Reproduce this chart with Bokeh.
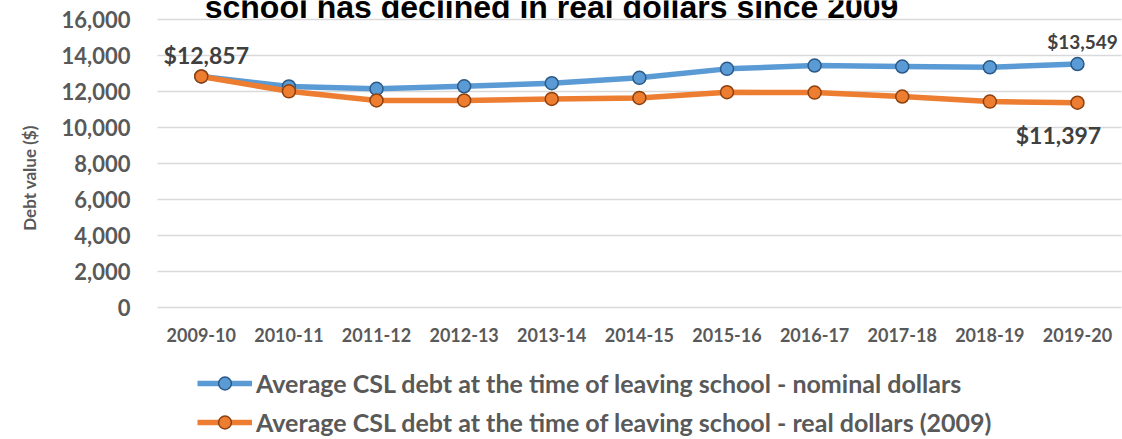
import math
from bokeh.plotting import figure
from bokeh.models import (Range1d, LinearAxis, Grid, FixedTicker, NumeralTickFormatter,
                          Label, Legend, LegendItem)
from bokeh.core.properties import value
from bokeh.embed import file_html
from bokeh.resources import INLINE

# ---- data ----
years = ["2009-10", "2010-11", "2011-12", "2012-13", "2013-14", "2014-15",
         "2015-16", "2016-17", "2017-18", "2018-19", "2019-20"]
nominal = [12857, 12300, 12170, 12310, 12480, 12780, 13280, 13465, 13410, 13370, 13549]
real = [12857, 12030, 11520, 11520, 11610, 11665, 11980, 11960, 11740, 11460, 11397]
y_ticks = [0, 2000, 4000, 6000, 8000, 10000, 12000, 14000, 16000]
title_text = "school has declined in real dollars since 2009"
y_label = "Debt value ($)"
name_nominal = "Average CSL debt at the time of leaving school - nominal dollars"
name_real = "Average CSL debt at the time of leaving school - real dollars (2009)"

xs = list(range(len(years)))

FONT = "Lato"
GRAY = "#595959"
BLUE, BLUE_DARK = "#5B9BD5", "#2B5A88"
ORANGE, ORANGE_DARK = "#ED7D31", "#8E410F"

W, H = 1122, 439
# the frame fills the canvas; plot area spans x -0.5..10.5 and y 0..16000
p = figure(width=W, height=H, x_range=Range1d(-2.2917, 10.514),
           y_range=Range1d(-7346, 17085),
           x_axis_location=None, y_axis_location=None,
           output_backend="svg", toolbar_location=None,
           min_border=0)
p.outline_line_color = None
p.center = []  # drop default grids

yticker = FixedTicker(ticks=y_ticks)
xticker = FixedTicker(ticks=xs)
p.add_layout(Grid(dimension=1, ticker=yticker, cross_bounds=(-0.5, 10.5),
                  grid_line_color="#D9D9D9", grid_line_width=1.5))

xaxis = LinearAxis(ticker=xticker, fixed_location=0,
                   major_label_overrides={i: y for i, y in zip(xs, years)})
yaxis = LinearAxis(ticker=yticker, fixed_location=-0.5,
                   formatter=NumeralTickFormatter(format="0,0"))
for ax in (xaxis, yaxis):
    ax.axis_line_color = None
    ax.major_tick_line_color = None
    ax.minor_tick_line_color = None
    ax.major_tick_out = 0
    ax.major_tick_in = 0
    ax.major_label_text_font = FONT
    ax.major_label_text_font_style = "bold"
    ax.major_label_text_color = GRAY
yaxis.major_label_text_font_size = "22px"
yaxis.major_label_standoff = 27
xaxis.major_label_text_font_size = "18px"
xaxis.major_label_standoff = 21
p.add_layout(xaxis, "below")
p.add_layout(yaxis, "left")

# series
l1 = p.line(xs, nominal, line_color=BLUE, line_width=5.5, line_join="round")
s1 = p.scatter(xs, nominal, marker="circle", size=13, fill_color=BLUE,
               line_color=BLUE_DARK, line_width=1.5)
l2 = p.line(xs, real, line_color=ORANGE, line_width=5.5, line_join="round")
s2 = p.scatter(xs, real, marker="circle", size=13, fill_color=ORANGE,
               line_color=ORANGE_DARK, line_width=1.5)

fmt = lambda v: "${:,}".format(v)
lab_kw = dict(text_font=value(FONT), text_font_style="bold", text_color="#404040",
              text_align="center", text_baseline="middle")
p.text(x=[xs[0]], y=[real[0]], text=[fmt(real[0])], x_offset=5, y_offset=-21,
       text_font_size="23px", **lab_kw)
p.text(x=[xs[-1]], y=[nominal[-1]], text=[fmt(nominal[-1])], x_offset=5, y_offset=-23,
       text_font_size="19px", **lab_kw)
p.text(x=[xs[-1]], y=[real[-1]], text=[fmt(real[-1])], x_offset=-19, y_offset=32,
       text_font_size="23px", **lab_kw)

# chart title (only its second line is visible, cut by the top edge)
p.add_layout(Label(x=551, y=H - 6.4, x_units="screen", y_units="screen", text=title_text,
                   text_align="center", text_baseline="middle",
                   text_font="Liberation Sans", text_font_style="bold",
                   text_font_size="32px", text_color="#000000"))

# y axis title
p.add_layout(Label(x=29, y=H - 177.5, x_units="screen", y_units="screen", text=y_label,
                   angle=math.pi / 2, text_align="center", text_baseline="middle",
                   text_font=FONT, text_font_style="bold", text_font_size="17px",
                   text_color=GRAY))

legend = Legend(items=[LegendItem(label=name_nominal, renderers=[l1, s1]),
                       LegendItem(label=name_real, renderers=[l2, s2])],
                location=(197, 1), orientation="vertical",
                glyph_width=55, glyph_height=32, label_height=32, spacing=7,
                padding=0, margin=0, label_standoff=4,
                border_line_color=None, background_fill_alpha=0,
                label_text_font=FONT, label_text_font_style="bold",
                label_text_font_size="25px", label_text_color=GRAY)
p.add_layout(legend)

open("out.html", "w").write(file_html(p, INLINE))
